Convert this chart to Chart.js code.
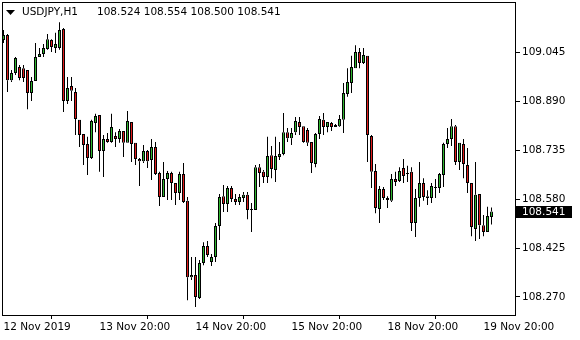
<!DOCTYPE html>
<html>
<head>
<meta charset="utf-8">
<script src="https://cdn.jsdelivr.net/npm/chart.js@4/dist/chart.umd.min.js"></script>
<style>
  html, body { margin: 0; padding: 0; background: #fff; }
  canvas { display: block; }
</style>
</head>
<body>
<canvas id="usdjpy" width="580" height="340"></canvas>
<script>
// USDJPY H1 candles, 12 Nov 20:00 .. 19 Nov 22:00
const opens = [
  109.085, 109.101, 108.958, 108.981, 109.000, 108.996, 108.990, 108.917, 108.955, 109.031,
  109.041, 109.057, 109.085, 109.060, 109.060, 109.120, 108.892, 108.939, 108.920, 108.832,
  108.787, 108.755, 108.711, 108.822, 108.847, 108.733, 108.771, 108.762, 108.781, 108.771,
  108.797, 108.759, 108.825, 108.759, 108.708, 108.701, 108.733, 108.705, 108.746, 108.663,
  108.587, 108.644, 108.663, 108.632, 108.600, 108.660, 108.575, 108.333, 108.340, 108.267,
  108.378, 108.432, 108.381, 108.397, 108.495, 108.590, 108.565, 108.616, 108.581, 108.571,
  108.584, 108.594, 108.546, 108.546, 108.682, 108.667, 108.651, 108.720, 108.673, 108.714,
  108.724, 108.793, 108.774, 108.793, 108.825, 108.812, 108.800, 108.762, 108.692, 108.787,
  108.832, 108.809, 108.822, 108.816, 108.812, 108.832, 108.914, 108.949, 108.996, 109.047,
  109.012, 109.035, 108.781, 108.670, 108.549, 108.613, 108.584, 108.575, 108.644, 108.638,
  108.679, 108.663, 108.667, 108.505, 108.584, 108.632, 108.590, 108.584, 108.616, 108.616,
  108.657, 108.755, 108.771, 108.812, 108.698, 108.755, 108.689, 108.632, 108.486, 108.597,
  108.498, 108.476, 108.524
];
const highs = [
  109.117, 109.104, 108.990, 109.031, 109.006, 109.006, 108.990, 108.968, 109.076, 109.060,
  109.073, 109.104, 109.088, 109.108, 109.142, 109.123, 108.968, 108.968, 108.933, 108.832,
  108.787, 108.778, 108.832, 108.851, 108.847, 108.784, 108.790, 108.851, 108.793, 108.803,
  108.797, 108.860, 108.825, 108.759, 108.711, 108.752, 108.736, 108.771, 108.762, 108.667,
  108.698, 108.670, 108.667, 108.632, 108.667, 108.695, 108.587, 108.397, 108.397, 108.387,
  108.444, 108.448, 108.406, 108.505, 108.597, 108.625, 108.622, 108.622, 108.597, 108.597,
  108.603, 108.603, 108.568, 108.689, 108.692, 108.673, 108.778, 108.749, 108.778, 108.762,
  108.854, 108.806, 108.806, 108.841, 108.841, 108.812, 108.806, 108.762, 108.790, 108.844,
  108.854, 108.825, 108.825, 108.819, 108.847, 108.949, 108.996, 109.035, 109.069, 109.060,
  109.060, 109.035, 108.784, 108.692, 108.622, 108.619, 108.590, 108.660, 108.667, 108.682,
  108.708, 108.686, 108.682, 108.613, 108.698, 108.647, 108.609, 108.632, 108.644, 108.663,
  108.759, 108.806, 108.835, 108.816, 108.759, 108.771, 108.743, 108.632, 108.698, 108.597,
  108.530, 108.556, 108.554
];
const lows = [
  109.076, 108.920, 108.952, 108.974, 108.958, 108.952, 108.866, 108.892, 108.955, 109.031,
  109.031, 109.054, 109.047, 109.044, 109.054, 108.857, 108.882, 108.892, 108.784, 108.746,
  108.689, 108.657, 108.708, 108.793, 108.667, 108.651, 108.759, 108.759, 108.746, 108.759,
  108.714, 108.759, 108.698, 108.689, 108.622, 108.695, 108.679, 108.641, 108.657, 108.559,
  108.587, 108.578, 108.578, 108.562, 108.578, 108.568, 108.260, 108.324, 108.238, 108.264,
  108.371, 108.397, 108.368, 108.381, 108.451, 108.540, 108.540, 108.571, 108.562, 108.562,
  108.571, 108.517, 108.476, 108.546, 108.619, 108.632, 108.632, 108.647, 108.635, 108.705,
  108.720, 108.762, 108.752, 108.784, 108.784, 108.759, 108.749, 108.663, 108.682, 108.771,
  108.784, 108.793, 108.797, 108.809, 108.809, 108.790, 108.905, 108.917, 108.996, 108.996,
  109.009, 108.698, 108.616, 108.536, 108.505, 108.578, 108.552, 108.571, 108.622, 108.635,
  108.632, 108.635, 108.479, 108.460, 108.556, 108.575, 108.562, 108.568, 108.584, 108.600,
  108.619, 108.743, 108.749, 108.689, 108.673, 108.647, 108.600, 108.463, 108.448, 108.454,
  108.463, 108.476, 108.500
];
const closes = [
  109.101, 108.958, 108.981, 109.028, 108.965, 108.965, 108.917, 108.955, 109.031, 109.041,
  109.060, 109.088, 109.063, 109.073, 109.117, 108.892, 108.933, 108.924, 108.835, 108.784,
  108.752, 108.711, 108.828, 108.844, 108.733, 108.771, 108.762, 108.809, 108.771, 108.797,
  108.759, 108.828, 108.755, 108.708, 108.701, 108.733, 108.701, 108.746, 108.660, 108.587,
  108.644, 108.663, 108.632, 108.600, 108.660, 108.571, 108.333, 108.340, 108.270, 108.378,
  108.432, 108.403, 108.397, 108.495, 108.587, 108.565, 108.616, 108.581, 108.571, 108.587,
  108.594, 108.546, 108.547, 108.682, 108.663, 108.651, 108.717, 108.676, 108.717, 108.724,
  108.793, 108.774, 108.790, 108.828, 108.809, 108.762, 108.759, 108.695, 108.787, 108.835,
  108.809, 108.825, 108.809, 108.809, 108.835, 108.917, 108.952, 109.000, 109.047, 109.012,
  109.038, 108.784, 108.667, 108.552, 108.613, 108.584, 108.578, 108.644, 108.635, 108.670,
  108.654, 108.660, 108.505, 108.584, 108.632, 108.587, 108.584, 108.622, 108.619, 108.660,
  108.755, 108.771, 108.812, 108.698, 108.759, 108.692, 108.632, 108.492, 108.594, 108.498,
  108.476, 108.527, 108.541
];

// time axis labels (bar index -> text)
const tickBars = [0, 24, 48, 72, 96, 120];
const tickText = ["12 Nov 2019", "13 Nov 20:00", "14 Nov 20:00", "15 Nov 20:00", "18 Nov 20:00", "19 Nov 20:00"];

// price axis labels
const priceTicks = [108.270, 108.425, 108.580, 108.735, 108.890, 109.045];

const symbol = "USDJPY,H1";
const lastBar = "108.524 108.554 108.500 108.541";
const lastPrice = 108.541;

const FONT = "DejaVu Sans";
const UP = "#2fb52f";
const DOWN = "#e01b1b";

// frame, header, bid label
const mtDecor = {
  id: "mtDecor",
  beforeDatasetsDraw(chart) {
    const { ctx, chartArea: a } = chart;
    ctx.save();
    ctx.strokeStyle = "#000";
    ctx.lineWidth = 1;
    ctx.strokeRect(a.left + 0.5, a.top - 0.5, a.right - a.left - 1, a.bottom - a.top);
    ctx.restore();
  },
  afterDraw(chart) {
    const { ctx, chartArea: a } = chart;
    ctx.save();
    // header
    ctx.fillStyle = "#000";
    ctx.beginPath();
    ctx.moveTo(6, 10);
    ctx.lineTo(15, 10);
    ctx.lineTo(10.5, 15);
    ctx.closePath();
    ctx.fill();
    ctx.font = "10.5px '" + FONT + "'";
    ctx.textBaseline = "middle";
    ctx.fillText(symbol, 22, 12.5);
    ctx.fillText(lastBar, 97, 12.5);
    // current price label
    const py = chart.scales.y.getPixelForValue(lastPrice);
    ctx.fillStyle = "#000";
    ctx.fillRect(a.right, Math.round(py) - 6, 56, 12);
    ctx.fillStyle = "#fff";
    ctx.fillText(lastPrice.toFixed(3), a.right + 6, Math.round(py));
    ctx.restore();
  }
};

const bodies = opens.map((o, i) => ({ x: i, y: [o, closes[i]] }));
// wicks split above / below the body so they never cover the fill
const upperWicks = highs.map((h, i) => ({ x: i, y: [Math.max(opens[i], closes[i]), h] }));
const lowerWicks = lows.map((l, i) => ({ x: i, y: [l, Math.min(opens[i], closes[i])] }));

const wickStyle = {
  grouped: false,
  barThickness: 1,
  borderWidth: 0,
  inflateAmount: 0,
  backgroundColor: "#000",
};

const ctx = document.getElementById("usdjpy").getContext("2d");
new Chart(ctx, {
  type: "bar",
  data: {
    datasets: [
      Object.assign({ label: "high", data: upperWicks }, wickStyle),
      Object.assign({ label: "low", data: lowerWicks }, wickStyle),
      {
        label: "body",
        data: bodies,
        grouped: false,
        barThickness: 3,
        borderWidth: 1,
        borderColor: "#000",
        borderSkipped: false,
        minBarLength: 1,
        inflateAmount: 0,
        backgroundColor: bodies.map((b) => (b.y[1] >= b.y[0] ? UP : DOWN)),
      },
    ],
  },
  options: {
    responsive: false,
    animation: false,
    devicePixelRatio: 1,
    layout: { padding: { left: 2, top: 3, right: 0, bottom: 0 } },
    plugins: {
      legend: { display: false },
      tooltip: { enabled: false },
    },
    scales: {
      x: {
        type: "linear",
        min: -0.375,
        max: 128.125,
        offset: false,
        border: { display: false },
        grid: { drawOnChartArea: false, drawTicks: true, tickLength: 3, color: "#000" },
        afterBuildTicks: (scale) => {
          scale.ticks = tickBars.map((v) => ({ value: v }));
        },
        afterFit: (scale) => {
          scale.height = 24;
          scale.paddingLeft = 0;
          scale.paddingRight = 0;
        },
        ticks: {
          autoSkip: false,
          maxRotation: 0,
          align: "start",
          padding: 2,
          color: "#000",
          font: { family: FONT, size: 10.5 },
          callback: (v) => tickText[tickBars.indexOf(v)],
        },
      },
      y: {
        type: "linear",
        position: "right",
        min: 108.2097,
        max: 109.2027,
        border: { display: false },
        grid: { drawOnChartArea: false, drawTicks: true, tickLength: 4, color: "#000" },
        afterBuildTicks: (scale) => {
          scale.ticks = priceTicks.map((v) => ({ value: v }));
        },
        afterFit: (scale) => {
          scale.width = 64;
          scale.paddingTop = 0;
          scale.paddingBottom = 0;
        },
        ticks: {
          padding: 2,
          color: "#000",
          font: { family: FONT, size: 10.5 },
          callback: (v) => v.toFixed(3),
        },
      },
    },
  },
  plugins: [mtDecor],
});
</script>
</body>
</html>
